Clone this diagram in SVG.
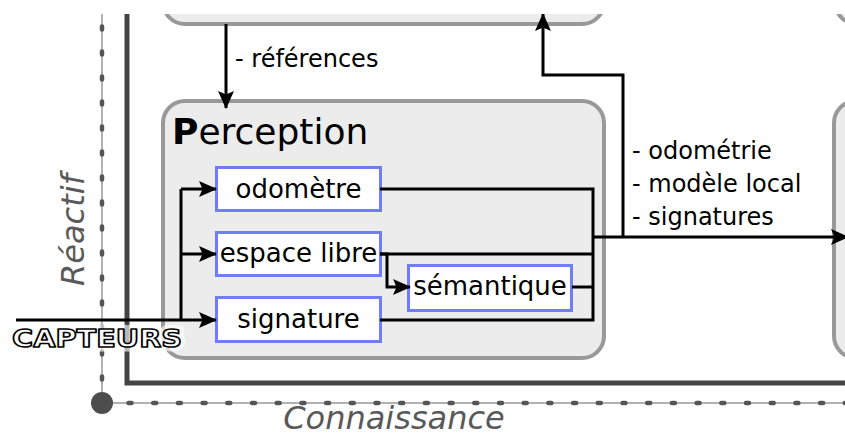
<svg xmlns="http://www.w3.org/2000/svg" width="845" height="437" viewBox="0 0 845 437">
  <style>
    .big { fill: #ececec; stroke: #999999; stroke-width: 4; }
    .mod { fill: #ffffff; stroke: #6f7ef6; stroke-width: 3; }
    .t { font-family: "DejaVu Sans", "Verdana", sans-serif; fill: #000000; }
    .mt { font-size: 26px; text-anchor: middle; }
    .lbl { font-size: 24px; }
    .ax { font-family: "DejaVu Sans", sans-serif; font-style: italic; font-size: 32px; fill: #595959; text-anchor: middle; }
    .cap { font-family: "DejaVu Sans", sans-serif; font-weight: bold; font-size: 24px; stroke-linejoin: round; }
    .conn { fill: none; stroke: #000000; stroke-width: 3; stroke-linejoin: miter; }
    .arr { marker-end: url(#ah); }
  </style>
  <defs>
    <marker id="ah" markerUnits="userSpaceOnUse" markerWidth="18" markerHeight="16" refX="17" refY="8" orient="auto" overflow="visible">
      <path d="M0,0 L18,8 L0,16 L3.5,8 z" fill="#000000"/>
    </marker>
    <clipPath id="clip">
      <rect x="0" y="14" width="845" height="423"/>
    </clipPath>
  </defs>
  <rect x="0" y="0" width="845" height="437" fill="#ffffff"/>
  <g clip-path="url(#clip)">
    <g id="axes">
      <path d="M102,403 V14" stroke="#999999" stroke-width="1.5" fill="none"/>
      <path d="M102,403 V14" stroke="#555555" stroke-width="4.5" stroke-linecap="round" stroke-dasharray="3 22" stroke-dashoffset="1.5" fill="none"/>
      <path d="M102,403 H845" stroke="#999999" stroke-width="1.5" fill="none"/>
      <path d="M102,403 H845" stroke="#555555" stroke-width="4.5" stroke-linecap="round" stroke-dasharray="3 21.7" stroke-dashoffset="-1.8" fill="none"/>
      <circle cx="102" cy="403" r="11" fill="#4d4d4d"/>
      <path d="M127,14 V383 H845" stroke="#444444" stroke-width="5" fill="none"/>
      <text class="ax" x="84" y="230" transform="rotate(-90 84 230)">Réactif</text>
      <text class="ax" x="394" y="429">Connaissance</text>
    </g>
    <g id="top-box">
      <rect class="big" x="163" y="-40" width="441" height="64" rx="22"/>
    </g>
    <g id="top-right-box">
      <rect class="big" x="835" y="-40" width="80" height="64" rx="22"/>
    </g>
    <g id="perception">
      <rect class="big" x="163" y="101" width="441" height="257" rx="22"/>
      <text class="t" x="172" y="144" font-size="36"><tspan font-weight="bold">P</tspan>erception</text>
    </g>
    <g id="right-box">
      <rect class="big" x="834" y="101" width="80" height="257" rx="22"/>
    </g>
    <g id="odometre">
      <rect class="mod" x="216.5" y="167.5" width="164" height="43"/>
      <text class="t mt" x="298.5" y="198">odomètre</text>
    </g>
    <g id="espace-libre">
      <rect class="mod" x="216.5" y="232.5" width="164" height="43"/>
      <text class="t mt" x="298.5" y="262">espace libre</text>
    </g>
    <g id="signature">
      <rect class="mod" x="216.5" y="297.5" width="164" height="44"/>
      <text class="t mt" x="298.5" y="328">signature</text>
    </g>
    <g id="semantique">
      <rect class="mod" x="408.5" y="265.5" width="163" height="45"/>
      <text class="t mt" x="490" y="295">sémantique</text>
    </g>
    <g id="capteurs">
      <g transform="translate(12,347) scale(1.2,1)">
        <text class="cap" x="0" y="0" fill="none" stroke="#ffffff" stroke-opacity="0.65" stroke-width="9">CAPTEURS</text>
        <text class="cap" x="0" y="0" fill="#ffffff" stroke="#000000" stroke-width="1.5">CAPTEURS</text>
      </g>
    </g>
    <g id="connectors">
      <path class="conn arr" d="M226,24 V108"/>
      <path class="conn" d="M181,189 V320"/>
      <path class="conn arr" d="M181,189 H216"/>
      <path class="conn arr" d="M181,254 H216"/>
      <path class="conn arr" d="M16,320 H216"/>
      <path class="conn arr" d="M380,254 H387 V287 H410"/>
      <path class="conn" d="M380,189 H593 V320 H380"/>
      <path class="conn" d="M380,254 H593"/>
      <path class="conn" d="M572,287 H593"/>
      <path class="conn arr" d="M593,237 H848"/>
      <path class="conn arr" d="M623,237 V75 H543 V14"/>
      <text class="t lbl" x="235" y="67">- références</text>
      <text class="t lbl" x="632" y="159">- odométrie</text>
      <text class="t lbl" x="632" y="192">- modèle local</text>
      <text class="t lbl" x="632" y="225">- signatures</text>
    </g>
  </g>
</svg>
